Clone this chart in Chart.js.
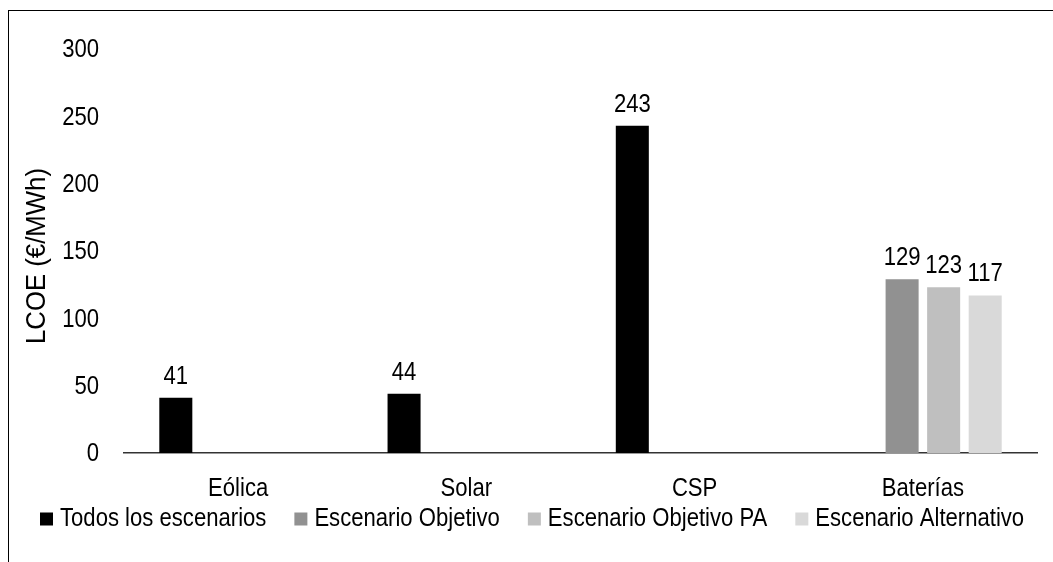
<!DOCTYPE html>
<html>
<head>
<meta charset="utf-8">
<script src="https://cdn.jsdelivr.net/npm/chart.js@4/dist/chart.umd.min.js"></script>
<style>
  html, body { margin: 0; padding: 0; background: #fff; }
  #wrap { position: relative; width: 1053px; height: 562px; overflow: hidden; }
  #frame { position: absolute; left: 8px; top: 10px; width: 1200px; height: 700px;
           border-left: 1.5px solid #000; border-top: 1.5px solid #000; box-sizing: border-box; }
  canvas { position: absolute; left: 0; top: 0; }
</style>
</head>
<body>
<div id="wrap">
  <div id="frame"></div>
  <canvas id="c" width="1053" height="562"></canvas>
</div>
<script>
const FAMILY = "'Liberation Sans', Arial, sans-serif";
const NARROW = 0.85;   // horizontal squeeze for a narrow face

// Technologies on the x axis
const categories = ['Eólica', 'Solar', 'CSP', 'Baterías'];

// Scenario series (LCOE, €/MWh)
const seriesNames = ['Todos los escenarios', 'Escenario Objetivo', 'Escenario Objetivo PA', 'Escenario Alternativo'];
const todosLosEscenarios   = [41, 44, 243, null];
const escenarioObjetivo    = [null, null, null, 129];
const escenarioObjetivoPA  = [null, null, null, 123];
const escenarioAlternativo = [null, null, null, 117];
const seriesColors = ['#000000', '#919191', '#bfbfbf', '#d9d9d9'];

// Y axis ticks
const yTicks = [0, 50, 100, 150, 200, 250, 300];
const yTitle = 'LCOE (€/MWh)';

const seriesValues = [todosLosEscenarios, escenarioObjetivo, escenarioObjetivoPA, escenarioAlternativo];

function narrowText(ctx, text, x, y, opts) {
  const o = Object.assign({ align: 'center', baseline: 'alphabetic', size: 26, rotate: 0, squeeze: NARROW }, opts || {});
  ctx.save();
  ctx.font = o.size + 'px ' + FAMILY;
  ctx.fillStyle = '#000';
  ctx.translate(x, y);
  if (o.rotate) ctx.rotate(o.rotate);
  ctx.scale(o.squeeze, 1);
  ctx.textAlign = o.align;
  ctx.textBaseline = o.baseline;
  ctx.fillText(text, 0, 0);
  ctx.restore();
}

// Axis labels, value labels and legend, drawn in a narrow style
const textLayer = {
  id: 'textLayer',
  afterDraw(chart) {
    const ctx = chart.ctx;
    const xs = chart.scales.x, ys = chart.scales.y;
    const area = chart.chartArea;

    // y tick labels
    yTicks.forEach(v => {
      narrowText(ctx, String(v), 99, ys.getPixelForValue(v) + 1, { align: 'right', baseline: 'middle' });
    });
    // y axis title
    narrowText(ctx, yTitle, 45, 256, { size: 28, squeeze: 0.92, rotate: -Math.PI / 2 });
    // category labels
    categories.forEach((c, i) => {
      narrowText(ctx, c, xs.getPixelForTick(i), area.bottom + 43);
    });
    // value labels above bars
    chart.data.datasets.forEach((ds, i) => {
      chart.getDatasetMeta(i).data.forEach((bar, j) => {
        const v = ds.data[j];
        if (v == null) return;
        narrowText(ctx, String(v), bar.x, bar.y - 14);
      });
    });
    // legend
    ctx.save();
    ctx.font = '26px ' + FAMILY;
    const box = 13, gap = 7, spacing = 28;
    const widths = chart.data.datasets.map(ds => box + gap + ctx.measureText(ds.label).width * NARROW);
    ctx.restore();
    let x = 40;
    const cy = 519;
    chart.data.datasets.forEach((ds, i) => {
      ctx.fillStyle = ds.backgroundColor;
      ctx.fillRect(x, cy - box / 2, box, box);
      narrowText(ctx, ds.label, x + box + gap, cy, { align: 'left', baseline: 'middle' });
      x += widths[i] + spacing;
    });
  }
};

new Chart(document.getElementById('c'), {
  type: 'bar',
  data: {
    labels: categories,
    datasets: seriesNames.map((name, i) => ({
      label: name,
      data: seriesValues[i],
      backgroundColor: seriesColors[i],
      borderWidth: 0,
      categoryPercentage: 0.728,
      barPercentage: 0.795,
      skipNull: false
    }))
  },
  options: {
    responsive: false,
    animation: false,
    layout: { padding: { left: 0, right: 16, top: 49, bottom: 49 } },
    plugins: {
      tooltip: { enabled: false },
      legend: { display: false }
    },
    scales: {
      x: {
        grid: { display: false, drawTicks: false },
        border: { display: true, color: '#333333', width: 1.5 },
        ticks: { display: false },
        afterFit(s) { s.height = 60; }
      },
      y: {
        min: 0, max: 300,
        afterBuildTicks(s) { s.ticks = yTicks.map(v => ({ value: v })); },
        grid: { display: false, drawTicks: false },
        border: { display: false },
        ticks: { display: false },
        afterFit(s) { s.width = 124; }
      }
    }
  },
  plugins: [textLayer]
});
</script>
</body>
</html>
